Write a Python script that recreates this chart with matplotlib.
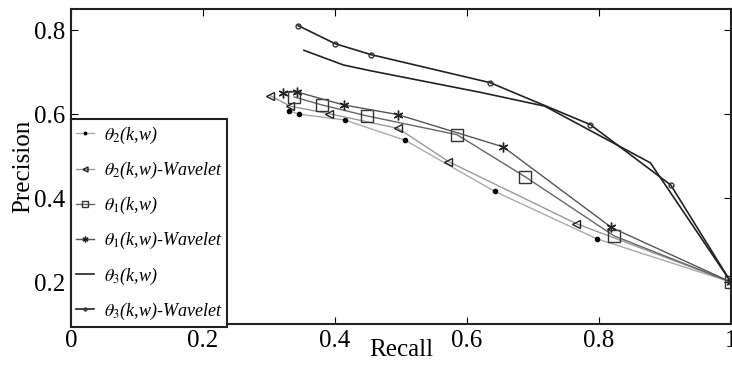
import numpy as np
import matplotlib
matplotlib.use('Agg')
import matplotlib.pyplot as plt

plt.rcParams['font.family'] = 'Liberation Serif'
plt.rcParams['mathtext.fontset'] = 'stix'

# precision / recall values
rec_t2 = [0.331, 0.345, 0.415, 0.506, 0.642, 0.797, 1.0]
pre_t2 = [0.608, 0.600, 0.586, 0.538, 0.416, 0.303, 0.2]

rec_t2w = [0.302, 0.332, 0.391, 0.496, 0.572, 0.766, 1.0]
pre_t2w = [0.644, 0.619, 0.601, 0.566, 0.487, 0.339, 0.2]

rec_t1 = [0.338, 0.380, 0.448, 0.585, 0.688, 0.823, 1.0]
pre_t1 = [0.641, 0.622, 0.596, 0.551, 0.451, 0.310, 0.2]

rec_t1w = [0.321, 0.342, 0.413, 0.495, 0.655, 0.819, 1.0]
pre_t1w = [0.651, 0.653, 0.622, 0.599, 0.522, 0.330, 0.2]

rec_t3 = [0.353, 0.413, 0.455, 0.620, 0.718, 0.878, 1.0]
pre_t3 = [0.752, 0.717, 0.703, 0.652, 0.619, 0.484, 0.2]

rec_t3w = [0.344, 0.400, 0.454, 0.635, 0.787, 0.909, 1.0]
pre_t3w = [0.811, 0.768, 0.742, 0.675, 0.575, 0.431, 0.2]

labels = [r'$\theta_{\mathit{2}}$(k,w)',
          r'$\theta_{\mathit{2}}$(k,w)-Wavelet',
          r'$\theta_{\mathit{1}}$(k,w)',
          r'$\theta_{\mathit{1}}$(k,w)-Wavelet',
          r'$\theta_{\mathit{3}}$(k,w)',
          r'$\theta_{\mathit{3}}$(k,w)-Wavelet']

fig = plt.figure(figsize=(7.32, 3.67), dpi=100)
ax = fig.add_axes([0.097, 0.117, 0.9015, 0.858])

ax.plot(rec_t2, pre_t2, color='#aaaaaa', lw=1, marker='o', ms=3,
        mfc='black', mec='black', label=labels[0])
ax.plot(rec_t2w, pre_t2w, color='#999999', lw=1, marker='<', ms=6,
        mfc='none', mec='#222222', label=labels[1])
ax.plot(rec_t1, pre_t1, color='#666666', lw=1, marker='s', ms=8,
        mfc='none', mec='#333333', label=labels[2])
ax.plot(rec_t1w, pre_t1w, color='#555555', lw=1, marker=(6, 2, 0), ms=7,
        mec='#222222', mew=1.0, label=labels[3])
ax.plot(rec_t3, pre_t3, color='#222222', lw=1.2, label=labels[4])
ax.plot(rec_t3w, pre_t3w, color='#222222', lw=1.2, marker='o', ms=3.5,
        mfc='none', mec='#333333', label=labels[5])

ax.set_xlim(0, 1)
ax.set_ylim(0.1, 0.85)
ax.set_xticks([0, 0.2, 0.4, 0.6, 0.8, 1])
ax.set_xticklabels(['0', '0.2', '0.4', '0.6', '0.8', '1'])
ax.set_yticks([0.2, 0.4, 0.6, 0.8])
ax.tick_params(direction='in', top=True, right=True, length=5,
               labelsize=18, pad=4)
for s in ax.spines.values():
    s.set_linewidth(1.5)
    s.set_color('#222222')

ax.set_xlabel('Recall', fontsize=18, labelpad=-9)
ax.set_ylabel('Precision', fontsize=18, labelpad=0)

leg = ax.legend(loc='lower left', bbox_to_anchor=(0.0, -0.01),
                prop={'family': 'Liberation Serif', 'style': 'italic', 'size': 13},
                handlelength=1.0, handletextpad=0.5, labelspacing=0.78,
                borderaxespad=0, borderpad=0.3, fancybox=False,
                markerscale=0.6, framealpha=1, edgecolor='#222222')
leg.get_frame().set_linewidth(1.5)

fig.savefig('out.png', dpi=100)
